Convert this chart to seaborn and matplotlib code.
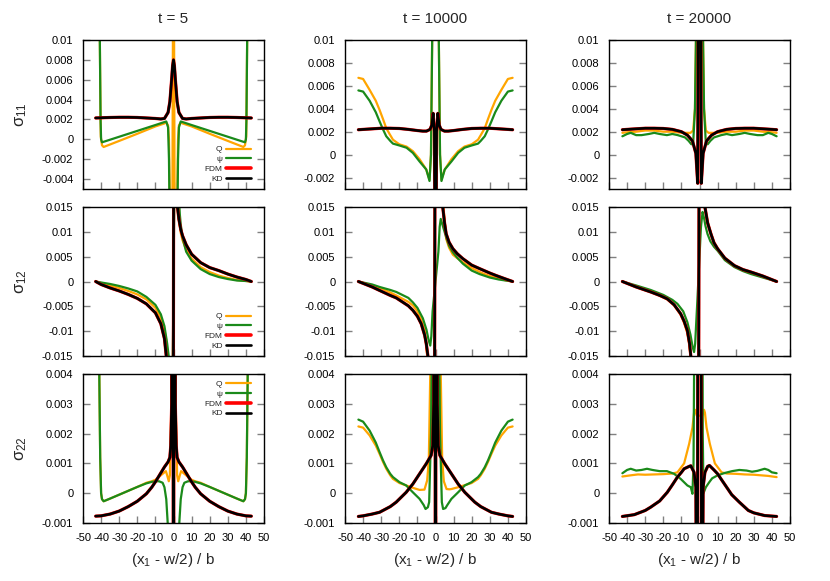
import pandas as pd
import matplotlib
matplotlib.use("Agg")
import matplotlib.pyplot as plt
from matplotlib.lines import Line2D
import seaborn as sns

# ---- data (x = (x1 - w/2)/b) ----
series_names = ["Q", "ψ", "FDM", "KD"]
series_colors = {"Q": "#ffa500", "ψ": "#1a8a1a", "FDM": "#ff0000", "KD": "#000000"}
series_widths = {"Q": 1.6, "ψ": 1.6, "FDM": 2.3, "KD": 1.9}
legend_widths = {"Q": 1.6, "ψ": 1.6, "FDM": 2.6, "KD": 1.9}
times = [5, 10000, 20000]
row_labels = ["σ$_{11}$", "σ$_{12}$", "σ$_{22}$"]

# sigma_11, t = 5
s11_t5_q_x = [-43, -41.5, -40.7, -40.2, -39.5, -38.6, -30, -20, -10, -5, -4, -3, -2.5, -2, -1, 0,
              1, 2, 2.5, 3, 4, 5, 10, 20, 30, 38.6, 39.5, 40.2, 40.7, 41.5, 43]
s11_t5_q = [0.06, 0.03, 0.01, 0.0003, -0.0006, -0.00077, -0.00016, 0.00056, 0.0013, 0.0016, 0.0017,
            0.0014, 0.0, -0.006, -0.03, 0.03, -0.03, -0.006, 0.0, 0.0014, 0.0017, 0.0016, 0.0013,
            0.00056, -0.00016, -0.00077, -0.0006, 0.0003, 0.01, 0.03, 0.06]
s11_t5_psi_x = [-43, -41.5, -40.7, -40.3, -40, -39.5, -30, -20, -10, -5, -4, -3, -2.5, -2, -1, 0,
                1, 2, 2.5, 3, 4, 5, 10, 20, 30, 39.5, 40, 40.3, 40.7, 41.5, 43]
s11_t5_psi = [0.06, 0.03, 0.01, 0.002, 0.0, -0.0003, 0.00026, 0.00085, 0.00144, 0.00174, 0.0018,
              0.0012, -0.002, -0.01, -0.03, -0.05, -0.03, -0.01, -0.002, 0.0012, 0.0018, 0.00174,
              0.00144, 0.00085, 0.00026, -0.0003, 0.0, 0.002, 0.01, 0.03, 0.06]
s11_t5_kd_x = [-43, -35, -30, -25, -20, -15, -10, -7, -5, -3, -2, -1, -0.5, 0, 0.5, 1, 2, 3, 5, 7,
               10, 15, 20, 25, 30, 35, 43]
s11_t5_kd = [0.00215, 0.0022, 0.00222, 0.00222, 0.0022, 0.00215, 0.0021, 0.00205, 0.0021, 0.0027,
             0.0038, 0.0061, 0.0074, 0.008, 0.0074, 0.0061, 0.0038, 0.0027, 0.0021, 0.00205, 0.0021,
             0.00215, 0.0022, 0.00222, 0.00222, 0.0022, 0.00215]
s11_t5_fdm = [0.00215, 0.0022, 0.00222, 0.00222, 0.0022, 0.00215, 0.0021, 0.00205, 0.0021, 0.0027,
              0.0038, 0.0061, 0.0074, 0.008, 0.0074, 0.0061, 0.0038, 0.0027, 0.0021, 0.00205, 0.0021,
              0.00215, 0.0022, 0.00222, 0.00222, 0.0022, 0.00215]

# sigma_12, t = 5
s12_t5_q_x = [-43, -40, -35, -30, -25, -20, -15, -10, -7, -5, -4, -3, -2, -1, 0, 1, 2, 2.6, 3, 4,
              5, 7, 10, 15, 20, 25, 30, 35, 40, 43]
s12_t5_q = [0, -0.0003, -0.0008, -0.0013, -0.0019, -0.0026, -0.0036, -0.0053, -0.0073, -0.0098,
            -0.0118, -0.0155, -0.025, -0.05, 0.0, 0.05, 0.025, 0.015, 0.0125, 0.0098, 0.0083,
            0.0064, 0.0046, 0.0029, 0.0019, 0.0012, 0.0007, 0.0003, 0.0001, 0]
s12_t5_psi_x = [-43, -40, -35, -30, -25, -20, -15, -10, -7, -5, -3.5, -2.5, -2, -1, 0, 1, 2, 3,
                3.5, 4, 5, 7, 10, 15, 20, 25, 30, 35, 40, 43]
s12_t5_psi = [0, -0.0002, -0.0005, -0.0009, -0.0014, -0.002, -0.0031, -0.0047, -0.0066, -0.009,
              -0.0125, -0.0155, -0.02, -0.04, 0.0, 0.04, 0.025, 0.0165, 0.0135, 0.0115, 0.0088,
              0.006, 0.0042, 0.0025, 0.0015, 0.0009, 0.0005, 0.0002, 0.0001, 0]
s12_t5_kd_x = [-43, -40, -35, -30, -25, -20, -15, -10, -7, -5, -4, -3, -1.5, -0.2, 0.2, 1.5, 2.2,
               3, 4, 5, 7, 10, 15, 20, 25, 30, 35, 40, 43]
s12_t5_kd = [0, -0.0006, -0.0013, -0.0019, -0.0026, -0.0034, -0.0045, -0.0063, -0.0085, -0.0115,
             -0.015, -0.02, -0.04, -0.06, 0.06, 0.04, 0.015, 0.0125, 0.0105, 0.0092, 0.0074, 0.0055,
             0.0038, 0.0028, 0.0022, 0.0015, 0.0009, 0.0004, 0]
s12_t5_fdm = [0, -0.0006, -0.0013, -0.0019, -0.0026, -0.0034, -0.0045, -0.0063, -0.0085, -0.0115,
              -0.015, -0.02, -0.04, -0.06, 0.06, 0.04, 0.015, 0.0125, 0.0105, 0.0092, 0.0074, 0.0055,
              0.0038, 0.0028, 0.0022, 0.0015, 0.0009, 0.0004, 0]

# sigma_22, t = 5
s22_t5_q_x = [-43, -41.5, -41, -40.5, -40, -39.5, -38.6, -35, -30, -25, -20, -15, -12, -10, -7, -5,
              -4.2, -3.5, -2.6, -2, -1.2, -0.5, 0.5, 1.2, 2, 2.6, 3.5, 4.2, 5, 7, 10, 12, 15, 20,
              25, 30, 35, 38.6, 39.5, 40, 40.5, 41, 41.5, 43]
s22_t5_q = [0.03, 0.01, 0.004, 0.0012, 0.0, -0.0002, -0.00027, -0.00018, -0.00005, 0.00008, 0.00021,
            0.00035, 0.0004, 0.00045, 0.0006, 0.0007, 0.00074, 0.0006, 0.0004, 0.0006, 0.003, 0.05,
            0.05, 0.003, 0.0006, 0.0004, 0.0006, 0.00074, 0.0007, 0.0006, 0.00045, 0.0004, 0.00035,
            0.00021, 0.00008, -0.00005, -0.00018, -0.00027, -0.0002, 0.0, 0.0012, 0.004, 0.01, 0.03]
s22_t5_psi_x = [-43, -41.5, -41, -40.5, -40, -39.5, -38.6, -35, -30, -25, -20, -15, -12, -10, -8,
                -6, -5, -4, -3, -2, 0, 2, 3, 4, 5, 6, 8, 10, 12, 15, 20, 25, 30, 35, 38.6, 39.5, 40,
                40.5, 41, 41.5, 43]
s22_t5_psi = [0.03, 0.01, 0.004, 0.0012, 0.0, -0.0002, -0.00027, -0.00018, -0.00005, 0.00008,
              0.00021, 0.00033, 0.00038, 0.0004, 0.0004, 0.00035, 0.0002, -0.0002, -0.0012, -0.003,
              -0.01, -0.003, -0.0012, -0.0002, 0.0002, 0.00035, 0.0004, 0.0004, 0.00038, 0.00033,
              0.00021, 0.00008, -0.00005, -0.00018, -0.00027, -0.0002, 0.0, 0.0012, 0.004, 0.01, 0.03]
s22_t5_kd_x = [-43, -40, -35, -30, -25, -20, -15, -12, -10, -7, -5, -3, -2, -1.5, -1, -0.3, 0, 0.3,
               1, 1.5, 2, 3, 5, 7, 10, 12, 15, 20, 25, 30, 35, 40, 43]
s22_t5_kd = [-0.00077, -0.00076, -0.0007, -0.0006, -0.00045, -0.00027, -0.00002, 0.0002, 0.00038,
             0.00068, 0.00088, 0.00105, 0.0012, 0.0016, 0.003, 0.05, -0.05, 0.05, 0.003, 0.0016,
             0.0012, 0.00105, 0.00088, 0.00068, 0.00038, 0.0002, -0.00002, -0.00027, -0.00045,
             -0.0006, -0.0007, -0.00076, -0.00077]
s22_t5_fdm = [-0.00077, -0.00076, -0.0007, -0.0006, -0.00045, -0.00027, -0.00002, 0.0002, 0.00038,
              0.00068, 0.00088, 0.00105, 0.0012, 0.0016, 0.003, 0.05, -0.05, 0.05, 0.003, 0.0016,
              0.0012, 0.00105, 0.00088, 0.00068, 0.00038, 0.0002, -0.00002, -0.00027, -0.00045,
              -0.0006, -0.0007, -0.00076, -0.00077]

# sigma_11, t = 10000
s11_t10k_q_x = [-42.6, -40, -36.4, -33, -30.9, -29, -27.2, -25, -23.5, -20, -16, -12.5, -8.8, -5.1,
                -3.3, -2.5, -1.5, 0, 1.5, 2.5, 3.3, 5.1, 8.8, 12.5, 16, 20, 23.5, 25, 27.2, 29, 30.9,
                33, 36.4, 40, 42.6]
s11_t10k_q = [0.0067, 0.0066, 0.00565, 0.0047, 0.0039, 0.0031, 0.0023, 0.0017, 0.0013, 0.0009,
              0.0007, 0.0003, -0.0004, -0.0013, -0.0022, 0.0, 0.015, 0.03, 0.015, 0.0, -0.0022,
              -0.0013, -0.0004, 0.0003, 0.0007, 0.0009, 0.0013, 0.0017, 0.0023, 0.0031, 0.0039,
              0.0047, 0.00565, 0.0066, 0.0067]
s11_t10k_psi_x = [-42.6, -40, -36.4, -33, -30.9, -29, -27.2, -25, -23.5, -20, -16, -12.5, -8.8,
                  -5.1, -3.3, -2.5, -1.5, 0, 1.5, 2.5, 3.3, 5.1, 8.8, 12.5, 16, 20, 23.5, 25, 27.2,
                  29, 30.9, 33, 36.4, 40, 42.6]
s11_t10k_psi = [0.0056, 0.0055, 0.0047, 0.0037, 0.0029, 0.0022, 0.0016, 0.0012, 0.00096, 0.0008,
                0.0006, 0.00015, -0.0006, -0.0013, -0.0023, 0.0, 0.015, 0.03, 0.015, 0.0, -0.0023,
                -0.0013, -0.0006, 0.00015, 0.0006, 0.0008, 0.00096, 0.0012, 0.0016, 0.0022, 0.0029,
                0.0037, 0.0047, 0.0055, 0.0056]
s11_t10k_kd_x = [-42.6, -40, -35, -30, -25, -20, -15, -10, -7, -5, -3, -2, -1.3, -0.6, -0.2, 0.2,
                 0.6, 1.3, 2, 3, 5, 7, 10, 15, 20, 25, 30, 35, 40, 42.6]
s11_t10k_kd = [0.00217, 0.0022, 0.00225, 0.0023, 0.0023, 0.00228, 0.0022, 0.0021, 0.00205, 0.00205,
               0.0022, 0.0026, 0.0036, 0.002, -0.01, -0.01, 0.002, 0.0036, 0.0026, 0.0022, 0.00205,
               0.00205, 0.0021, 0.0022, 0.00228, 0.0023, 0.0023, 0.00225, 0.0022, 0.00217]
s11_t10k_fdm = [0.00217, 0.0022, 0.00225, 0.0023, 0.0023, 0.00228, 0.0022, 0.0021, 0.00205, 0.00205,
                0.0022, 0.0026, 0.0036, 0.002, -0.01, -0.01, 0.002, 0.0036, 0.0026, 0.0022, 0.00205,
                0.00205, 0.0021, 0.0022, 0.00228, 0.0023, 0.0023, 0.00225, 0.0022, 0.00217]

# sigma_12, t = 10000
s12_t10k_q_x = [-42.6, -35, -30, -25, -21.7, -15, -12.5, -10, -8, -6, -4.6, -3, -0.6, -0.2, 3, 4.4,
                5.9, 7.5, 9.6, 12, 15, 20, 25, 30, 35, 38, 42.6]
s12_t10k_q = [0, -0.0008, -0.0014, -0.0022, -0.0028, -0.0041, -0.0048, -0.006, -0.0076, -0.0098,
              -0.015, -0.025, -0.05, 0.05, 0.025, 0.015, 0.0086, 0.0068, 0.0054, 0.0047, 0.0039,
              0.0027, 0.0018, 0.0011, 0.0006, 0.0003, 0]
s12_t10k_psi_x = [-42.6, -35, -30.9, -25, -21.7, -15, -12.5, -10, -7, -5, -3.8, -2.9, -2.3, -1.6,
                  1.6, 2.3, 2.9, 3.8, 5.9, 7.5, 9.6, 12, 15.1, 20, 24.3, 30, 35, 42.6]
s12_t10k_psi = [0, -0.0006, -0.0011, -0.0017, -0.0021, -0.0033, -0.0042, -0.0053, -0.0074, -0.0097,
                -0.0118, -0.0129, -0.011, -0.006, 0.006, 0.011, 0.0126, 0.0115, 0.0089, 0.0072,
                0.0059, 0.0048, 0.0036, 0.0022, 0.0015, 0.0008, 0.0004, 0]
s12_t10k_kd_x = [-42.6, -35, -30.9, -25, -21.7, -15, -12.5, -10, -7.9, -6, -5.1, -4.2, -3, -0.6,
                 -0.2, 3, 4, 5, 5.9, 7.5, 9.6, 12, 15.1, 20, 24.3, 30, 33.5, 38, 42.6]
s12_t10k_kd = [0, -0.0011, -0.0018, -0.0028, -0.0033, -0.0049, -0.0058, -0.007, -0.0085, -0.0108,
               -0.0125, -0.015, -0.025, -0.05, 0.05, 0.025, 0.015, 0.0118, 0.0096, 0.0079, 0.0066,
               0.0056, 0.0046, 0.0033, 0.0026, 0.0017, 0.0012, 0.0006, 0]
s12_t10k_fdm = [0, -0.0011, -0.0018, -0.0028, -0.0033, -0.0049, -0.0058, -0.007, -0.0085, -0.0108,
                -0.0125, -0.015, -0.025, -0.05, 0.05, 0.025, 0.015, 0.0118, 0.0096, 0.0079, 0.0066,
                0.0056, 0.0046, 0.0033, 0.0026, 0.0017, 0.0012, 0.0006, 0]

# sigma_22, t = 10000
s22_t10k_q_x = [-42.6, -40, -36.4, -33, -30.9, -29, -27.2, -25, -23.5, -19.9, -16.2, -12.5, -8.8,
                -6.1, -4.6, -3.7, -2.9, -1.5, 1.5, 2.9, 3.7, 4.6, 6.1, 7.7, 8.8, 12.5, 16.2, 19.9,
                23.5, 25, 27.2, 29, 30.9, 33, 36.4, 40, 42.6]
s22_t10k_q = [0.00224, 0.0022, 0.00194, 0.0016, 0.00132, 0.00105, 0.00082, 0.0006, 0.00048,
              0.00034, 0.00026, 0.00018, 0.00011, 0.00012, 0.00043, 0.0011, 0.004, 0.02, 0.02,
              0.004, 0.0011, 0.0004, 0.00014, 0.00013, 0.00014, 0.0002, 0.00027, 0.00034, 0.00048,
              0.0006, 0.00082, 0.00105, 0.00132, 0.0016, 0.00194, 0.0022, 0.00224]
s22_t10k_psi_x = [-42.6, -40, -36.4, -33, -30.9, -29, -27.2, -25, -23.5, -19.9, -16.2, -12.5, -8.8,
                  -6.5, -5.5, -4.2, -3.5, -2.5, -1.8, 0, 1.8, 2.5, 3.5, 4.2, 5.5, 6.5, 8.8, 12.5,
                  16.2, 19.9, 23.5, 25, 27.2, 29, 30.9, 33, 36.4, 40, 42.6]
s22_t10k_psi = [0.00247, 0.0024, 0.0021, 0.0017, 0.00138, 0.0011, 0.00087, 0.00065, 0.00054,
                0.00037, 0.00026, 0.00003, -0.00019, -0.0004, -0.00053, -0.00047, -0.0003, 0.002,
                0.006, 0.03, 0.006, 0.002, -0.0003, -0.00053, -0.0005, -0.0004, -0.00019, 0.00003,
                0.00026, 0.00037, 0.00054, 0.00065, 0.00087, 0.0011, 0.00138, 0.0017, 0.0021,
                0.0024, 0.00247]
s22_t10k_kd_x = [-42.6, -40, -35, -30.9, -25, -21.7, -16.2, -12.5, -8.8, -5.1, -2.4, -1.5, -1,
                 -0.3, 0, 0.3, 1, 1.5, 2.4, 5.1, 8.8, 12.5, 16.2, 21.7, 25, 30.9, 35, 40, 42.6]
s22_t10k_kd = [-0.00078, -0.00076, -0.0007, -0.00064, -0.00045, -0.0003, 0.00003, 0.00031, 0.00065,
               0.00099, 0.00127, 0.0016, 0.003, 0.05, -0.05, 0.05, 0.003, 0.0016, 0.00127, 0.00099,
               0.00065, 0.00031, 0.00003, -0.0003, -0.00045, -0.00064, -0.0007, -0.00076, -0.00078]
s22_t10k_fdm = [-0.00078, -0.00076, -0.0007, -0.00064, -0.00045, -0.0003, 0.00003, 0.00031,
                0.00065, 0.00099, 0.00127, 0.0016, 0.003, 0.05, -0.05, 0.05, 0.003, 0.0016,
                0.00127, 0.00099, 0.00065, 0.00031, 0.00003, -0.0003, -0.00045, -0.00064, -0.0007,
                -0.00076, -0.00078]

# sigma_11, t = 20000
s11_t20k_q_x = [-42.6, -40, -35, -30, -25, -20, -15, -10, -5, -3.5, -2.5, -1.5, 0, 1.5, 2.5, 3.5,
                5, 10, 15, 20, 25, 30, 35, 40, 42.6]
s11_t20k_q = [0.0019, 0.00195, 0.002, 0.0021, 0.0021, 0.002, 0.002, 0.0019, 0.0019, 0.0021, 0.004,
              0.015, 0.03, 0.015, 0.004, 0.0021, 0.0019, 0.0019, 0.002, 0.002, 0.0021, 0.0021, 0.002,
              0.00195, 0.0019]
s11_t20k_psi_x = [-42.6, -40, -38, -35, -32, -28, -25, -22, -18, -15, -12, -8, -6, -4.5, -3.5,
                  -2.5, -1.5, 0, 1.5, 2.5, 3.5, 4.5, 6, 8, 12, 15, 18, 22, 25, 28, 32, 35, 38, 40,
                  42.6]
s11_t20k_psi = [0.0016, 0.0018, 0.0019, 0.0017, 0.0017, 0.0018, 0.0019, 0.0018, 0.0017, 0.0018,
                0.0017, 0.0015, 0.0012, 0.0009, 0.001, 0.004, 0.015, 0.03, 0.015, 0.004, 0.001,
                0.0009, 0.0012, 0.0015, 0.0017, 0.0018, 0.0017, 0.0018, 0.0019, 0.0018, 0.0017,
                0.0017, 0.0019, 0.0018, 0.0016]
s11_t20k_kd_x = [-42.6, -40, -35, -30, -25, -20, -15, -10, -6.7, -3.9, -2, -1, -0.3, 0.3, 1, 2,
                 3.9, 6.7, 10, 15, 20, 25, 30, 35, 40, 42.6]
s11_t20k_kd = [0.00217, 0.0022, 0.00225, 0.0023, 0.0023, 0.00228, 0.0022, 0.002, 0.0017, 0.0012,
               0.0001, -0.0025, 0.03, 0.03, -0.0025, 0.0001, 0.0012, 0.0017, 0.002, 0.0022, 0.00228,
               0.0023, 0.0023, 0.00225, 0.0022, 0.00217]
s11_t20k_fdm = [0.00217, 0.0022, 0.00225, 0.0023, 0.0023, 0.00228, 0.0022, 0.002, 0.0017, 0.0012,
                0.0001, -0.0025, 0.03, 0.03, -0.0025, 0.0001, 0.0012, 0.0017, 0.002, 0.0022,
                0.00228, 0.0023, 0.0023, 0.00225, 0.0022, 0.00217]

# sigma_12, t = 20000
s12_t20k_q_x = [-42.6, -35, -27, -22, -17.8, -14, -10.4, -8.5, -6.7, -5.7, -5, -3.5, -0.6, -0.1, 2,
                2.8, 4.5, 6.3, 8, 10, 14, 19.3, 24, 28.5, 35, 42.6]
s12_t20k_q = [0, -0.0011, -0.0021, -0.0028, -0.0036, -0.0048, -0.0067, -0.0083, -0.0104, -0.0125,
              -0.015, -0.025, -0.05, 0.05, 0.025, 0.015, 0.0119, 0.0097, 0.0079, 0.0066, 0.0046,
              0.0031, 0.0023, 0.0018, 0.001, 0]
s12_t20k_psi_x = [-42.6, -35, -27, -20, -15, -12.2, -9, -6.7, -5, -3.8, -3, -2.4, -1.2, 0.8, 1.7,
                  2.5, 3.3, 4.4, 6, 8, 10, 14, 19.3, 24, 28.5, 35, 42.6]
s12_t20k_psi = [0, -0.0008, -0.0017, -0.0027, -0.0037, -0.0045, -0.006, -0.0082, -0.0107, -0.0132,
                -0.0142, -0.0125, -0.004, 0.011, 0.014, 0.0128, 0.0112, 0.0096, 0.0081, 0.007,
                0.0062, 0.0043, 0.0029, 0.0021, 0.0015, 0.0008, 0]
s12_t20k_kd_x = [-42.6, -35, -27, -22, -17.8, -14, -10.4, -8.5, -6.7, -5.5, -4.8, -3.5, -0.6, -0.1,
                 2, 3, 4.5, 6.3, 8, 10, 14, 19.3, 24, 28.5, 35, 42.6]
s12_t20k_kd = [0, -0.0011, -0.0021, -0.0028, -0.0035, -0.0047, -0.0065, -0.008, -0.0099, -0.0125,
               -0.015, -0.025, -0.05, 0.05, 0.025, 0.015, 0.0118, 0.0096, 0.0078, 0.0066, 0.0047,
               0.0032, 0.0024, 0.0019, 0.0011, 0]
s12_t20k_fdm = [0, -0.0011, -0.0021, -0.0028, -0.0035, -0.0047, -0.0065, -0.008, -0.0099, -0.0125,
                -0.015, -0.025, -0.05, 0.05, 0.025, 0.015, 0.0118, 0.0096, 0.0078, 0.0066, 0.0047,
                0.0032, 0.0024, 0.0019, 0.0011, 0]

# sigma_22, t = 20000
s22_t20k_q_x = [-42.6, -38, -34, -30, -25, -20, -15, -12.2, -8.5, -5.7, -3.9, -3, -2.5, -1.5, 0,
                1.5, 2.5, 3, 3.9, 5.7, 8.5, 12.2, 15, 20, 25, 30, 34, 38, 42.6]
s22_t20k_q = [0.00056, 0.0006, 0.00063, 0.00062, 0.00063, 0.00064, 0.00066, 0.0007, 0.001, 0.00166,
              0.0022, 0.0027, 0.0028, 0.0026, 0.0026, 0.0026, 0.0028, 0.0027, 0.0022, 0.00166,
              0.001, 0.0007, 0.00066, 0.00065, 0.00063, 0.00062, 0.0006, 0.00058, 0.00054]
s22_t20k_psi_x = [-42.6, -40, -38, -35, -32, -29, -26, -22, -18, -14, -10.4, -6.7, -4.8, -3.9,
                  -3.3, -2.8, -1.5, 1.2, 1.8, 2.2, 3.5, 5.4, 7, 10, 14, 18, 22, 26, 29, 32, 36, 38,
                  40, 42.6]
s22_t20k_psi = [0.00067, 0.00078, 0.00082, 0.00076, 0.00078, 0.00082, 0.00078, 0.00074, 0.00074,
                0.00065, 0.00048, 0.00026, 0.0002, -0.00002, 0.001, 0.006, 0.03, 0.02, 0.002, 0.0,
                0.0002, 0.00037, 0.0005, 0.0006, 0.00068, 0.00074, 0.00078, 0.00076, 0.00072,
                0.00075, 0.00082, 0.00078, 0.0007, 0.00067]
s22_t20k_kd_x = [-42.6, -36, -30, -27, -22, -17.8, -15, -12.2, -10, -8.5, -5.7, -4.8, -3, -2, -1.2,
                 -0.2, 0.2, 1.2, 2, 3, 4.5, 5.5, 8, 10, 12.2, 15, 17.8, 22, 27, 30, 36, 42.6]
s22_t20k_kd = [-0.00078, -0.00072, -0.00058, -0.00047, -0.00026, 0.00003, 0.00028, 0.00054, 0.0007,
               0.00082, 0.0009, 0.00092, 0.0007, 0.0002, -0.01, 0.05, 0.05, -0.01, 0.0002, 0.0007,
               0.0009, 0.00093, 0.00078, 0.00065, 0.00045, 0.0002, -0.00005, -0.0003, -0.00058,
               -0.00066, -0.00075, -0.00078]
s22_t20k_fdm = [-0.00078, -0.00072, -0.00058, -0.00047, -0.00026, 0.00003, 0.00028, 0.00054,
                0.0007, 0.00082, 0.0009, 0.00092, 0.0007, 0.0002, -0.01, 0.05, 0.05, -0.01, 0.0002,
                0.0007, 0.0009, 0.00093, 0.00078, 0.00065, 0.00045, 0.0002, -0.00005, -0.0003,
                -0.00058, -0.00066, -0.00075, -0.00078]

# axis ranges and tick labels per row
x_ticks = [-50, -40, -30, -20, -10, 0, 10, 20, 30, 40, 50]
x_ticklabels = ["-50", "-40", "-30", "-20", "-10", "0", "10", "20", "30", "40", "50"]
s11_ylim_t5 = (-0.005, 0.01)
s11_ylim_late = (-0.003, 0.01)
s11_ticks_t5 = [-0.004, -0.002, 0, 0.002, 0.004, 0.006, 0.008, 0.01]
s11_ticklabels_t5 = ["-0.004", "-0.002", "0", "0.002", "0.004", "0.006", "0.008", "0.01"]
s11_ticks_late = [-0.002, 0, 0.002, 0.004, 0.006, 0.008, 0.01]
s11_ticklabels_late = ["-0.002", "0", "0.002", "0.004", "0.006", "0.008", "0.01"]
s12_ylim = (-0.015, 0.015)
s12_ticks = [-0.015, -0.01, -0.005, 0, 0.005, 0.01, 0.015]
s12_ticklabels = ["-0.015", "-0.01", "-0.005", "0", "0.005", "0.01", "0.015"]
s22_ylim = (-0.001, 0.004)
s22_ticks = [-0.001, 0, 0.001, 0.002, 0.003, 0.004]
s22_ticklabels = ["-0.001", "0", "0.001", "0.002", "0.003", "0.004"]

panels = [
    [  # sigma_11
        dict(q=(s11_t5_q_x, s11_t5_q), psi=(s11_t5_psi_x, s11_t5_psi),
             fdm=(s11_t5_kd_x, s11_t5_fdm), kd=(s11_t5_kd_x, s11_t5_kd),
             ylim=s11_ylim_t5, ticks=s11_ticks_t5, labels=s11_ticklabels_t5),
        dict(q=(s11_t10k_q_x, s11_t10k_q), psi=(s11_t10k_psi_x, s11_t10k_psi),
             fdm=(s11_t10k_kd_x, s11_t10k_fdm), kd=(s11_t10k_kd_x, s11_t10k_kd),
             ylim=s11_ylim_late, ticks=s11_ticks_late, labels=s11_ticklabels_late),
        dict(q=(s11_t20k_q_x, s11_t20k_q), psi=(s11_t20k_psi_x, s11_t20k_psi),
             fdm=(s11_t20k_kd_x, s11_t20k_fdm), kd=(s11_t20k_kd_x, s11_t20k_kd),
             ylim=s11_ylim_late, ticks=s11_ticks_late, labels=s11_ticklabels_late),
    ],
    [  # sigma_12
        dict(q=(s12_t5_q_x, s12_t5_q), psi=(s12_t5_psi_x, s12_t5_psi),
             fdm=(s12_t5_kd_x, s12_t5_fdm), kd=(s12_t5_kd_x, s12_t5_kd),
             ylim=s12_ylim, ticks=s12_ticks, labels=s12_ticklabels),
        dict(q=(s12_t10k_q_x, s12_t10k_q), psi=(s12_t10k_psi_x, s12_t10k_psi),
             fdm=(s12_t10k_kd_x, s12_t10k_fdm), kd=(s12_t10k_kd_x, s12_t10k_kd),
             ylim=s12_ylim, ticks=s12_ticks, labels=s12_ticklabels),
        dict(q=(s12_t20k_q_x, s12_t20k_q), psi=(s12_t20k_psi_x, s12_t20k_psi),
             fdm=(s12_t20k_kd_x, s12_t20k_fdm), kd=(s12_t20k_kd_x, s12_t20k_kd),
             ylim=s12_ylim, ticks=s12_ticks, labels=s12_ticklabels),
    ],
    [  # sigma_22
        dict(q=(s22_t5_q_x, s22_t5_q), psi=(s22_t5_psi_x, s22_t5_psi),
             fdm=(s22_t5_kd_x, s22_t5_fdm), kd=(s22_t5_kd_x, s22_t5_kd),
             ylim=s22_ylim, ticks=s22_ticks, labels=s22_ticklabels),
        dict(q=(s22_t10k_q_x, s22_t10k_q), psi=(s22_t10k_psi_x, s22_t10k_psi),
             fdm=(s22_t10k_kd_x, s22_t10k_fdm), kd=(s22_t10k_kd_x, s22_t10k_kd),
             ylim=s22_ylim, ticks=s22_ticks, labels=s22_ticklabels),
        dict(q=(s22_t20k_q_x, s22_t20k_q), psi=(s22_t20k_psi_x, s22_t20k_psi),
             fdm=(s22_t20k_kd_x, s22_t20k_fdm), kd=(s22_t20k_kd_x, s22_t20k_kd),
             ylim=s22_ylim, ticks=s22_ticks, labels=s22_ticklabels),
    ],
]

sns.set_theme(style="white")
plt.rcParams["font.family"] = ["Liberation Sans", "DejaVu Sans"]
plt.rcParams["mathtext.fontset"] = "custom"
plt.rcParams["mathtext.rm"] = "Liberation Sans"
plt.rcParams["mathtext.it"] = "Liberation Sans"

W, H = 830, 581
fig = plt.figure(figsize=(W / 100, H / 100), dpi=100)
col_left = [83, 345, 609]
row_top = [40, 207, 374]
pw, ph = 181, 149


def draw_panel(ax, spec, show_legend, legend_loc):
    frames = []
    for name, key in zip(series_names, ["q", "psi", "fdm", "kd"]):
        xs, ys = spec[key]
        frames.append(pd.DataFrame({"x": xs, "y": ys, "series": name}))
    df = pd.concat(frames, ignore_index=True)
    sns.lineplot(data=df, x="x", y="y", hue="series", size="series",
                 hue_order=series_names, size_order=series_names,
                 palette=series_colors, sizes=series_widths,
                 estimator=None, sort=False, legend=False, ax=ax)
    ax.set_xlim(-50, 50)
    ax.set_ylim(*spec["ylim"])
    ax.set_yticks(spec["ticks"])
    ax.set_yticklabels(spec["labels"])
    ax.set_xticks(x_ticks)
    ax.set_xlabel("")
    ax.set_ylabel("")
    for side in ["left", "right", "top", "bottom"]:
        ax.spines[side].set_color("black")
        ax.spines[side].set_linewidth(1.0)
    ax.tick_params(axis="y", direction="in", left=True, right=True, length=5, width=1,
                   color="#808080", labelsize=8, pad=7, labelcolor="black")
    ax.tick_params(axis="x", direction="in", bottom=True, top=False, length=5, width=1,
                   color="#808080", labelsize=8, pad=7, labelcolor="black")
    if show_legend:
        handles = [Line2D([], [], color=series_colors[n], lw=legend_widths[n]) for n in series_names]
        ax.legend(handles, series_names, loc=legend_loc, markerfirst=False, frameon=False,
                  fontsize=6, handlelength=3.0, handletextpad=0.4, labelspacing=0.25,
                  borderaxespad=0.3, bbox_to_anchor=(0.96, 0.0 if legend_loc == "lower right" else 1.0))


for r in range(3):
    for c in range(3):
        rect = [col_left[c] / W, 1 - (row_top[r] + ph) / H, pw / W, ph / H]
        ax = fig.add_axes(rect)
        legend_loc = "upper right" if r == 2 else "lower right"
        draw_panel(ax, panels[r][c], c == 0, legend_loc)
        if r < 2:
            ax.set_xticklabels([])
        else:
            ax.set_xticklabels(x_ticklabels)
            ax.set_xlabel("(x$_1$ - w/2) / b", fontsize=11, labelpad=6)
        if r == 0:
            ax.set_title(f"t = {times[c]}", fontsize=11, pad=12)
        if c == 0:
            ax.set_ylabel(row_labels[r], fontsize=12)
            ax.yaxis.set_label_coords(-0.30, 0.5)

fig.savefig("out.png", dpi=100)
